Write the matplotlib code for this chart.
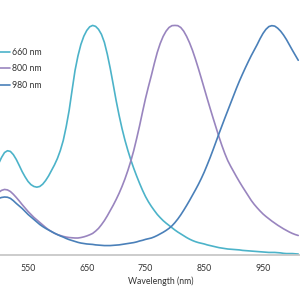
import matplotlib
matplotlib.use("Agg")
import matplotlib.pyplot as plt

wavelength = list(range(500, 1015, 5))

abs_660 = [.397, .424, .445, .453, .450, .436, .415, .389, .362, .339,
           .319, .305, .297, .294, .297, .307, .323, .343, .367, .391,
           .419, .454, .498, .558, .629, .717, .803, .867, .917, .953,
           .978, .994, 1.000, .996, .983, .961, .926, .874, .812, .743,
           .672, .608, .550, .499, .454, .413, .376, .342, .310, .280,
           .253, .230, .210, .192, .175, .161, .148, .137, .127, .117,
           .107, .098, .090, .082, .074, .067, .061, .056, .052, .049,
           .046, .042, .039, .036, .033, .030, .028, .026, .024, .023,
           .022, .021, .020, .018, .017, .016, .015, .014, .013, .012,
           .011, .010, .009, .009, .009, .008, .007, .005, .004, .004,
           .004, .003, .002]

abs_800 = [.271, .280, .284, .282, .275, .263, .249, .234, .218, .203,
           .188, .175, .162, .151, .140, .129, .118, .108, .100, .093,
           .087, .083, .079, .076, .074, .073, .072, .072, .074, .077,
           .081, .086, .092, .102, .114, .130, .148, .169, .192, .215,
           .240, .267, .297, .330, .367, .408, .454, .507, .563, .623,
           .681, .733, .782, .834, .882, .921, .952, .975, .991, .999,
           1.000, .999, .991, .975, .952, .924, .891, .853, .812, .769,
           .725, .681, .638, .596, .555, .514, .476, .441, .410, .385,
           .362, .339, .317, .296, .276, .256, .236, .219, .204, .190,
           .177, .166, .156, .146, .137, .128, .120, .112, .105, .098,
           .092, .087, .083]

abs_980 = [.245, .249, .251, .250, .245, .235, .223, .212, .201, .188,
           .175, .164, .153, .142, .131, .122, .114, .107, .100, .093,
           .087, .081, .076, .070, .065, .061, .057, .053, .050, .048,
           .046, .045, .044, .042, .041, .040, .039, .039, .039, .040,
           .041, .042, .044, .046, .048, .050, .052, .055, .059, .062,
           .066, .069, .072, .077, .083, .090, .097, .105, .114, .125,
           .139, .155, .173, .193, .214, .236, .259, .282, .306, .332,
           .360, .391, .423, .457, .492, .527, .561, .595, .628, .661,
           .694, .727, .758, .787, .815, .842, .868, .892, .916, .942,
           .965, .983, .995, .999, .997, .988, .975, .958, .938, .915,
           .892, .870, .848]

series_labels = ["660 nm", "800 nm", "980 nm"]
colors = ["#4cb3c9", "#9985bf", "#4a80b9"]
x_ticks = [550, 650, 750, 850, 950]

plt.rcParams['font.family'] = ['Lato', 'DejaVu Sans']

fig = plt.figure(figsize=(3, 3), dpi=100)
ax = fig.add_axes([0, 1 - 254.5 / 300, 1, 254.5 / 300])

for ys, lab, c in zip([abs_660, abs_800, abs_980], series_labels, colors):
    ax.plot(wavelength, ys, color=c, lw=1.2, label=lab,
            solid_capstyle='round', solid_joinstyle='round')

ax.set_xlim(502.3, 1013)
ax.set_ylim(0, 1.111)

for s in ['top', 'right', 'left']:
    ax.spines[s].set_visible(False)
ax.spines['bottom'].set_color('#c4c4c4')
ax.spines['bottom'].set_linewidth(1.2)
ax.set_yticks([])
ax.set_xticks(x_ticks)
ax.set_xticklabels([str(t) for t in x_ticks])
ax.tick_params(axis='x', length=0, pad=7, labelsize=6.3, labelcolor='#333333')

fig.text(160.5 / 300, 1 - 281 / 300, "Wavelength (nm)", ha='center', va='center',
         fontsize=6.3, color='#333333')

leg = ax.legend(loc='upper left', bbox_to_anchor=(0, 1 - 48 / 300),
                bbox_transform=fig.transFigure, frameon=False, fontsize=6.3,
                handlelength=1.2, handletextpad=0.15, borderpad=0,
                borderaxespad=0, labelspacing=0.85)
for t in leg.get_texts():
    t.set_color('#333333')

fig.savefig("out.png", dpi=100)
